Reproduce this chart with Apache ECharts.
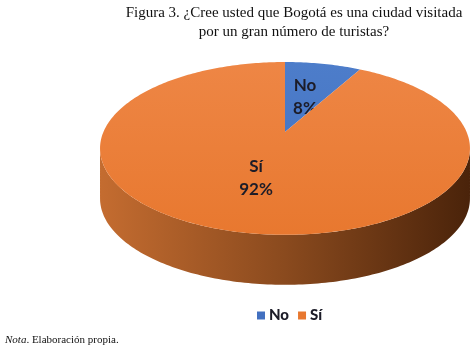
<!DOCTYPE html>
<html>
<head>
<meta charset="utf-8">
<script src="https://cdn.jsdelivr.net/npm/echarts@6/dist/echarts.min.js"></script>
<style>
    html, body {margin: 0; padding: 0; background: #fff}
    #chart {width: 474px; height: 352px}
</style>
</head>
<body>
<div id="chart"></div>
<script>
// datos del gráfico
const categories = ['No', 'Sí']
const values = [8, 92]
const valueLabels = ['8%', '92%']
const titleLines = [
    'Figura 3. ¿Cree usted que Bogotá es una ciudad visitada',
    'por un gran número de turistas?'
]
const noteText = 'Elaboración propia.'

// estilo
const topColors = [['#4d7dca', '#4270c0'], ['#ee8645', '#e8782f']]
const sideColors = [['#3a5f9f', '#1d3566'], ['#c46c30', '#8a4a1e', '#4a230a']]
const labelAt = [[305, 97], [256, 178]]

// geometría: disco en perspectiva (pie "3D")
// apex = centro del disco proyectado, k = fuerza de la perspectiva
const geo = {cx: 285, cy: 132, rx: 181.6, ry: 83.3, k: 0.19, depth: 50}

const total = values.reduce((a, b) => a + b, 0)
const starts = values.map((v, i) => values.slice(0, i).reduce((a, b) => a + b, 0))

function rim(t, dy) {
    // t: fracción de vuelta, desde arriba en sentido horario
    let a = t * Math.PI * 2
    let u = Math.sin(a)
    let v = -Math.cos(a)
    let w = 1 - geo.k * v
    return [geo.cx + geo.rx * u / w, geo.cy + geo.ry * v / w + (dy || 0)]
}

function arcPoints(t0, t1, dy) {
    let pts = []
    let n = Math.max(2, Math.ceil((t1 - t0) * 360))
    for (let k = 0; k <= n; k++) {
        pts.push(rim(t0 + (t1 - t0) * k / n, dy))
    }
    return pts
}

// límites de la silueta lateral (puntos más anchos)
const sideFrom = Math.acos(-geo.k) / (2 * Math.PI)
const sideTo = 1 - sideFrom

function renderSlice(idx) {
    return function (params, api) {
        let t0 = api.value(0) / total
        let t1 = (api.value(0) + api.value(1)) / total
        let children = []

        // lateral visible (mitad frontal)
        let s0 = Math.max(t0, sideFrom)
        let s1 = Math.min(t1, sideTo)
        if (s1 > s0) {
            let top = arcPoints(s0, s1, 0)
            let bottom = arcPoints(s0, s1, geo.depth).reverse()
            let stops = sideColors[idx].map((c, i, arr) => ({offset: i / (arr.length - 1), color: c}))
            children.push({
                type: 'polygon',
                shape: {points: top.concat(bottom)},
                style: {
                    fill: {
                        type: 'linear', global: true,
                        x: geo.cx - 185, y: 0, x2: geo.cx + 185, y2: 0,
                        colorStops: stops
                    }
                }
            })
        }

        // cara superior
        let apex = [geo.cx, geo.cy]
        children.push({
            type: 'polygon',
            shape: {points: [apex].concat(arcPoints(t0, t1, 0))},
            style: {
                fill: {
                    type: 'linear', global: true,
                    x: 0, y: 62, x2: 0, y2: 235,
                    colorStops: [
                        {offset: 0, color: topColors[idx][0]},
                        {offset: 1, color: topColors[idx][1]}
                    ]
                }
            }
        })

        // etiqueta
        children.push({
            type: 'text',
            x: labelAt[idx][0],
            y: labelAt[idx][1],
            style: {
                text: categories[idx] + '\n' + valueLabels[idx],
                fill: '#1c1c28',
                font: 'bold 17px Lato',
                lineHeight: 23,
                align: 'center',
                verticalAlign: 'middle'
            }
        })

        return {type: 'group', children: children}
    }
}

let chartInst = echarts.init(document.getElementById('chart'))

chartInst.setOption({
    animation: false,
    color: topColors.map(c => c[1]),
    legend: {
        left: 252,
        top: 303,
        icon: 'rect',
        itemWidth: 8,
        itemHeight: 8,
        itemGap: 9,
        textStyle: {fontFamily: 'Lato', fontWeight: 900, fontSize: 15, color: '#1c1c28', padding: [0, 0, 0, -1]},
        data: categories
    },
    graphic: [
        {
            type: 'text',
            x: 294,
            y: 4,
            style: {
                text: titleLines.join('\n'),
                font: '15px "Liberation Serif"',
                lineHeight: 19,
                fill: '#111',
                align: 'center'
            }
        },
        {
            type: 'text',
            x: 5,
            y: 335,
            style: {
                text: '{i|Nota}. ' + noteText,
                font: '11px "Liberation Serif"',
                fill: '#111',
                rich: {
                    i: {fontFamily: 'Liberation Serif', fontStyle: 'italic', fontSize: 11}
                }
            }
        }
    ],
    series: categories.map((name, i) => ({
        type: 'custom',
        name: name,
        coordinateSystem: 'none',
        renderItem: renderSlice(i),
        data: [[starts[i], values[i]]]
    }))
})
</script>
</body>
</html>
